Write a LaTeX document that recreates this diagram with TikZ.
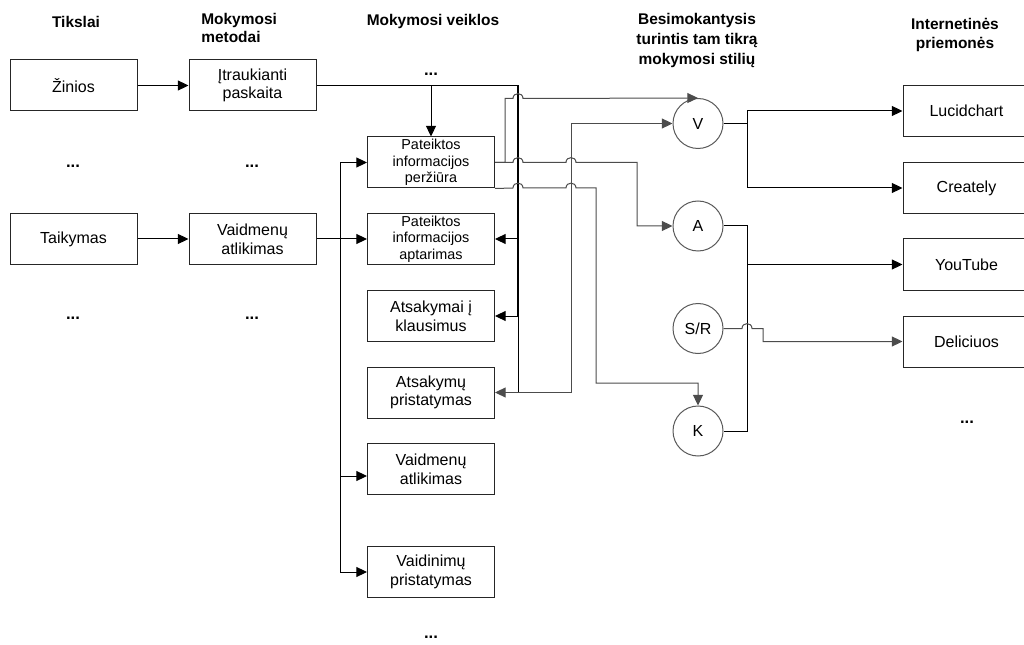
\documentclass[tikz,border=0pt]{standalone}
\usepackage{fontspec}
\setmainfont{Liberation Sans}
\usetikzlibrary{arrows.meta}

\begin{document}
\begin{tikzpicture}[x=0.75pt,y=-0.75pt,
  box/.style={draw=black!85, line width=0.75pt, minimum width=95.25pt,
    minimum height=38.25pt, inner sep=1pt, align=center,
    font=\fontsize{12}{14}\selectfont},
  smallbox/.style={box, font=\fontsize{10.8}{12.4}\selectfont},
  stylecirc/.style={circle, draw=black!65, line width=0.75pt, minimum size=37.5pt,
    inner sep=0pt, font=\fontsize{12}{14}\selectfont},
  head/.style={font=\bfseries\fontsize{11.6}{13.75}\selectfont, align=center, inner sep=0pt},
  dots/.style={font=\bfseries\fontsize{12.5}{14}\selectfont, inner sep=0pt},
  conn/.style={draw=black, line width=0.75pt},
  gconn/.style={draw=black!70, line width=0.75pt},
  tip/.tip={Triangle[length=8pt,width=7.5pt]},
  arr/.style={-tip},
  ]
\useasboundingbox (0,0) rectangle (1024,645);

% column headings
\node[head] (h1) at (76,22) {Tikslai};
\node[head, align=left, anchor=west] (h2) at (201,28) {Mokymosi\\metodai};
\node[head] (h3) at (433,22) {Mokymosi veiklos};
\node[head, font=\bfseries\fontsize{11.6}{15}\selectfont] (h4) at (697,41)
  {Besimokantysis\\turintis tam tikrą\\mokymosi stilių};
\node[head] (h5) at (955,35) {Internetinės\\priemonės};

% goals and methods
\node[box] (zin)  at (73.5,85.5) {Žinios};
\node[box] (itr)  at (252.5,85.5) {Įtraukianti\\paskaita};
\node[box] (tai)  at (73.5,239) {Taikymas};
\node[box] (vmet) at (252.5,239) {Vaidmenų\\atlikimas};
\node[dots] (d1) at (73,166) {...};
\node[dots] (d2) at (252,166) {...};
\node[dots] (d3) at (73,318) {...};
\node[dots] (d4) at (252,318) {...};

% learning activities
\node[dots] (d5) at (431,74) {...};
\node[smallbox] (perz)   at (431,162.5) {Pateiktos\\informacijos\\peržiūra};
\node[smallbox] (apt)    at (431,239) {Pateiktos\\informacijos\\aptarimas};
\node[box]      (ats)    at (431,316) {Atsakymai į\\klausimus};
\node[box]      (pri)    at (431,392.5) {Atsakymų\\pristatymas};
\node[box]      (vaid)   at (431,469) {Vaidmenų\\atlikimas};
\node[box]      (vaidin) at (431,572) {Vaidinimų\\pristatymas};
\node[dots] (d6) at (431,637) {...};

% learning styles
\node[stylecirc] (V)  at (698,123.5) {V};
\node[stylecirc] (A)  at (698,226) {A};
\node[stylecirc] (SR) at (698,328.5) {S/R};
\node[stylecirc] (K)  at (698,431) {K};

% web tools
\node[box] (luc) at (966.5,111) {Lucidchart};
\node[box] (cre) at (966.5,188) {Creately};
\node[box] (you) at (966.5,264.5) {YouTube};
\node[box] (del) at (966.5,341.5) {Deliciuos};
\node[dots] (d7) at (967,422) {...};

% goals -> methods
\draw[conn,arr] (zin) -- (itr);
\draw[conn,arr] (tai) -- (vmet);

% lecture -> activities (trunk)
\draw[conn] (itr.east) -- (518,85.5);
\draw[conn,line width=1.5pt] (518,85.5) -- (518,316);
\draw[conn] (518,316) -- (518,392.5);
\draw[conn,arr] (431,85.5) -- (perz.north);
\draw[conn,arr] (518,239) -- (apt.east);
\draw[conn,arr] (518,316) -- (ats.east);

% role play -> activities
\draw[conn] (vmet.east) -- (340,239);
\draw[conn] (340,162.5) -- (340,572);
\draw[conn,arr] (340,162.5) -- (perz.west);
\draw[conn,arr] (340,239) -- (apt.west);
\draw[conn,arr] (340,476) -- ([yshift=-5.25pt]vaid.west);
\draw[conn,arr] (340,572) -- (vaidin.west);

% activities -> learning styles (with line hops)
\draw[gconn,arr] (perz.east) -- (505,162.5) -- (505,98.5) -- (513,98.5)
  .. controls (513,92) and (523,92) .. (523,98.5) -- (V.north);
\draw[gconn,arr] (perz.east) -- (513,162.5)
  .. controls (513,156) and (523,156) .. (523,162.5) -- (566,162.5)
  .. controls (566,156) and (576,156) .. (576,162.5) -- (637,162.5)
  -- (637,226) -- (A.west);
\draw[gconn,arr] (perz.south east) -- (513,188)
  .. controls (513,181.5) and (523,181.5) .. (523,188) -- (566,188)
  .. controls (566,181.5) and (576,181.5) .. (576,188) -- (596,188)
  -- (596,383) -- (698,383) -- (K.north);
\draw[gconn,tip-tip] (pri.east) -- (571,392.5) -- (571,123.5) -- (V.west);

% learning styles -> web tools
\draw[conn] (V.east) -- (747,123.5);
\draw[conn] (747,111) -- (747,188);
\draw[conn,arr] (747,111) -- (luc.west);
\draw[conn,arr] (747,188) -- (cre.west);
\draw[conn] (A.east) -- (747,226) -- (747,431) -- (K.east);
\draw[conn,arr] (747,264.5) -- (you.west);
\draw[gconn,arr] (SR.east) -- (742,328.5)
  .. controls (742,322) and (752,322) .. (752,328.5) -- (763,328.5)
  -- (763,341.5) -- (del.west);
\end{tikzpicture}
\end{document}
